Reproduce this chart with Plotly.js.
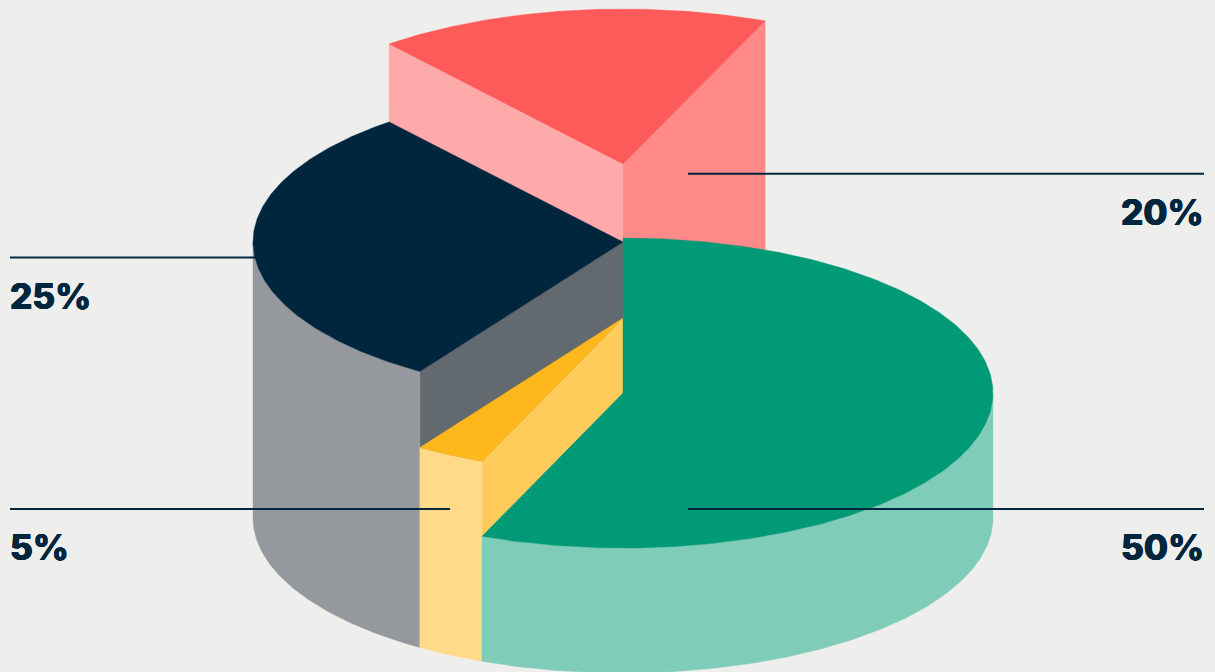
<!DOCTYPE html>
<html>
<head>
<meta charset="utf-8">
<script src="https://cdn.plot.ly/plotly-3.0.1.min.js"></script>
<style>html,body{margin:0;padding:0;background:#EEEEEC;overflow:hidden}#chart{width:1215px;height:672px}</style>
</head>
<body>
<div id="chart"></div>
<script>
// Data
const categories = ['Green', 'Yellow', 'Navy', 'Red'];
const shareLabels = ['50%', '5%', '25%', '20%'];
const sweepDegrees = [202.4, 10.9, 107.5, 61.8];   // drawn sweep of each wedge, clockwise from 12 o'clock
const riseAmounts = [0, 75, 151, 229];             // how far each wedge is lifted

// Styles
const topColors = ['#009A76', '#FFB81C', '#00263E', '#FF5A5A'];
const sideColors = ['#7FCCB9', '#FFDA88', '#95989D', null];
const startFaceColors = [null, '#FFCC5C', '#62696F', '#FFAAAA'];
const endFaceColors = [null, null, null, '#FF8888'];
const leaderX = [[688, 1204], [10, 450], [10, 256], [688, 1204]];
const leaderY = [509, 509, 257.5, 173.8];
const labelX = [1204, 10, 10, 1204];
const labelY = [547, 547, 296, 212];
const labelAnchor = ['right', 'left', 'left', 'right'];
const INK = '#00263E', BG = '#EEEEEC';

// Pie geometry in the page's coordinate system
const CX = 623, CY = 393, RX = 370, RY = 155, DEPTH = 125;
const rad = d => d * Math.PI / 180;
const rimX = a => CX + RX * Math.sin(rad(a));
const rimY = (a, level) => CY - RY * Math.cos(rad(a)) + level;

function arc(a0, a1, level) {
  const n = Math.max(2, Math.ceil(Math.abs(a1 - a0) * 1.5));
  const xs = [], ys = [];
  for (let i = 0; i <= n; i++) {
    const a = a0 + (a1 - a0) * i / n;
    xs.push(rimX(a)); ys.push(rimY(a, level));
  }
  return { xs, ys };
}
function poly(xs, ys, color, name) {
  return {
    type: 'scatter', mode: 'lines', x: xs, y: ys, fill: 'toself', fillcolor: color,
    line: { color: color, width: 0.4 }, hoverinfo: 'skip', name: name, showlegend: false
  };
}
function face(a, rise, color, name) {
  return poly([CX, rimX(a), rimX(a), CX, CX],
              [CY - rise, rimY(a, -rise), rimY(a, 0), CY, CY - rise], color, name);
}

// Wedge start angles accumulate from the sweeps
const starts = [];
sweepDegrees.reduce((s, v, i) => { starts[i] = s; return s + v; }, 0);

const traces = [];
[3, 2, 1, 0].forEach(i => {
  const a0 = starts[i], a1 = a0 + sweepDegrees[i], rise = riseAmounts[i];
  if (endFaceColors[i]) traces.push(face(a1, rise, endFaceColors[i], categories[i] + ' end'));
  if (startFaceColors[i]) traces.push(face(a0, rise, startFaceColors[i], categories[i] + ' start'));
  if (sideColors[i]) {
    const s0 = Math.max(a0, 90), s1 = Math.min(a1, 270);
    const up = arc(s0, s1, -rise), down = arc(s1, s0, DEPTH);
    traces.push(poly(up.xs.concat(down.xs, [up.xs[0]]), up.ys.concat(down.ys, [up.ys[0]]),
                     sideColors[i], categories[i] + ' side'));
  }
  const t = arc(a0, a1, -rise);
  traces.push(poly([CX].concat(t.xs, [CX]), [CY - rise].concat(t.ys, [CY - rise]),
                   topColors[i], categories[i] + ' top'));
});
leaderX.forEach((xs, i) => traces.push({
  type: 'scatter', mode: 'lines', x: xs, y: [leaderY[i], leaderY[i]],
  line: { color: INK, width: 2 }, hoverinfo: 'skip', showlegend: false, name: shareLabels[i] + ' leader'
}));

const layout = {
  width: 1215, height: 672, margin: { l: 0, r: 0, t: 0, b: 0, pad: 0 },
  paper_bgcolor: BG, plot_bgcolor: BG, showlegend: false,
  xaxis: { range: [0, 1215], visible: false, fixedrange: true },
  yaxis: { range: [672, 0], visible: false, fixedrange: true },
  annotations: shareLabels.map((txt, i) => ({
    x: labelX[i], y: labelY[i], xref: 'x', yref: 'y', text: txt, showarrow: false,
    xanchor: labelAnchor[i], yanchor: 'middle', borderpad: 0, borderwidth: 0,
    font: { family: 'Inter', size: 35, color: INK, weight: 800,
            shadow: '0.4px 0 0 #00263E, -0.4px 0 0 #00263E, 0 0.2px 0 #00263E' }
  }))
};
Plotly.newPlot('chart', traces, layout, { staticPlot: true, displayModeBar: false });
</script>
</body>
</html>
